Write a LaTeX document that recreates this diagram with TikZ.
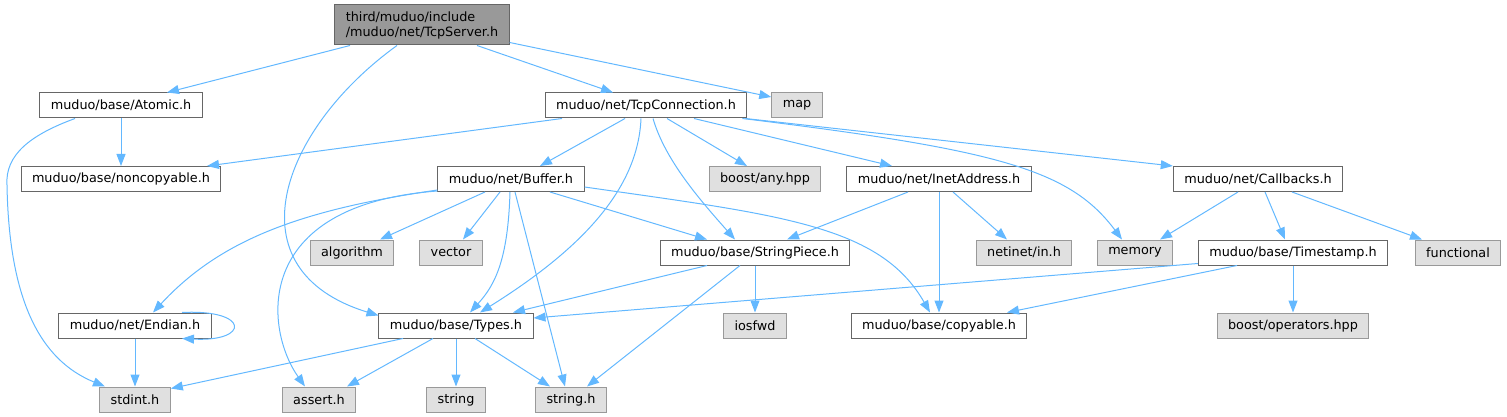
\documentclass[tikz,border=0pt]{standalone}
\usepackage{fontspec}
\setmainfont{DejaVu Sans}
\usepackage{tikz}
\usetikzlibrary{arrows.meta}
\definecolor{edgeblue}{HTML}{63B8FF}
\definecolor{boxline}{HTML}{666666}
\definecolor{extline}{HTML}{999999}
\definecolor{extfill}{HTML}{E0E0E0}
\definecolor{rootfill}{HTML}{999999}

\begin{document}
\begin{tikzpicture}[x=1pt, y=-1pt,
  hfile/.style={draw=boxline, fill=white, line width=1pt, inner xsep=11pt, inner ysep=0pt,
    minimum height=25pt, font=\fontsize{12.8}{15}\selectfont},
  sysfile/.style={hfile, draw=extline, fill=extfill},
  mainfile/.style={hfile, fill=rootfill, minimum height=40pt, align=left},
  incl/.style={draw=edgeblue, line width=1pt, -{Triangle[length=12pt,width=9pt]}}]
\useasboundingbox (0,0) rectangle (1507,417);

\node[mainfile] (srv) at (422,25) {third/muduo/include\\/muduo/net/TcpServer.h};
\node[hfile] (atomic) at (121,105.5) {muduo/base/Atomic.h};
\node[hfile] (tcpconn) at (646,105.5) {muduo/net/TcpConnection.h};
\node[sysfile] (map) at (797,105.5) {map};
\node[hfile] (noncopy) at (121,179) {muduo/base/noncopyable.h};
\node[hfile] (buffer) at (511,179) {muduo/net/Buffer.h};
\node[sysfile] (anyhpp) at (765,179) {boost/any.hpp};
\node[hfile] (inet) at (939,179) {muduo/net/InetAddress.h};
\node[hfile] (callbacks) at (1258,179) {muduo/net/Callbacks.h};
\node[sysfile] (algo) at (352,252.5) {algorithm};
\node[sysfile] (vector) at (451,252.5) {vector};
\node[hfile] (strpiece) at (755,252.5) {muduo/base/StringPiece.h};
\node[sysfile] (netinet) at (1024,252.5) {netinet/in.h};
\node[sysfile] (memory) at (1135,252.5) {memory};
\node[hfile] (timestamp) at (1293,252.5) {muduo/base/Timestamp.h};
\node[sysfile] (functional) at (1458,252.5) {functional};
\node[hfile] (endian) at (135,325.5) {muduo/net/Endian.h};
\node[hfile] (types) at (456,325.5) {muduo/base/Types.h};
\node[sysfile] (iosfwd) at (755,325.5) {iosfwd};
\node[hfile] (copyable) at (939,325.5) {muduo/base/copyable.h};
\node[sysfile] (operators) at (1293,325.5) {boost/operators.hpp};
\node[sysfile] (stdint) at (135,399.5) {stdint.h};
\node[sysfile] (asserth) at (319,399.5) {assert.h};
\node[sysfile] (string) at (456,399.5) {string};
\node[sysfile] (stringh) at (571,399.5) {string.h};

% TcpServer.h
\draw[incl] ([xshift=-72pt]srv.south) -- ([xshift=46pt]atomic.north);
\draw[incl] ([xshift=-25pt]srv.south) .. controls (280,130) and (230,270) .. ([yshift=-3pt]types.north west);
\draw[incl] ([xshift=55pt]srv.south) -- ([xshift=-33pt]tcpconn.north);
\draw[incl] ([yshift=3pt]srv.south east) -- ([yshift=8.5pt]map.west);
% Atomic.h
\draw[incl] (atomic) -- (noncopy);
\draw[incl] ([xshift=-46pt]atomic.south) .. controls (30,135) and (5,155) .. (7,185)
  .. controls (9,300) and (40,360) .. ([xshift=-30pt]stdint.north);
% TcpConnection.h
\draw[incl] ([xshift=-84pt]tcpconn.south) -- ([xshift=86pt]noncopy.north);
\draw[incl] ([xshift=-21pt]tcpconn.south) -- ([xshift=29pt]buffer.north);
\draw[incl] ([xshift=-5pt]tcpconn.south) .. controls (638,190) and (580,250) .. ([xshift=24pt]types.north);
\draw[incl] ([xshift=7pt]tcpconn.south) .. controls (665,160) and (700,200) .. ([xshift=-20pt]strpiece.north);
\draw[incl] ([xshift=21pt]tcpconn.south) -- ([xshift=-18pt]anyhpp.north);
\draw[incl] ([xshift=48pt]tcpconn.south) -- ([xshift=-47pt]inet.north);
\draw[incl] ([xshift=-5pt]tcpconn.south east) .. controls (1000,150) and (1070,170) .. ([xshift=-13pt]memory.north);
\draw[incl] ([xshift=-2pt]tcpconn.south east) -- (callbacks.north west);
% Buffer.h
\draw[incl] ([yshift=2pt]buffer.south west) .. controls (300,210) and (220,240) .. ([xshift=18pt]endian.north);
\draw[incl] ([yshift=1pt]buffer.south west) .. controls (250,205) and (265,330) .. ([xshift=-14pt]asserth.north);
\draw[incl] ([xshift=-26pt]buffer.south) -- ([xshift=28pt]algo.north);
\draw[incl] ([xshift=-11pt]buffer.south) -- ([xshift=12pt]vector.north);
\draw[incl] ([xshift=-1pt]buffer.south) .. controls (508,260) and (495,285) .. ([xshift=14pt]types.north);
\draw[incl] ([xshift=4pt]buffer.south) -- ([xshift=-6pt]stringh.north);
\draw[incl] ([xshift=39pt]buffer.south) -- ([xshift=-48pt]strpiece.north);
\draw[incl] ([yshift=5pt]buffer.south east) .. controls (780,215) and (880,225) .. ([xshift=-9pt]copyable.north);
% InetAddress.h
\draw[incl] ([xshift=-31pt]inet.south) -- ([xshift=32pt]strpiece.north);
\draw[incl] (inet) -- (copyable);
\draw[incl] ([xshift=14pt]inet.south) -- ([xshift=-17pt]netinet.north);
% Callbacks.h
\draw[incl] ([xshift=-20pt]callbacks.south) -- ([xshift=25pt]memory.north);
\draw[incl] ([xshift=7pt]callbacks.south) -- ([xshift=-8pt]timestamp.north);
\draw[incl] ([xshift=34pt]callbacks.south) -- ([xshift=-36pt]functional.north);
% Timestamp.h
\draw[incl] ([yshift=2pt]timestamp.south west) -- ([yshift=7.5pt]types.east);
\draw[incl] ([xshift=-56pt]timestamp.south) -- ([xshift=68pt]copyable.north);
\draw[incl] (timestamp) -- (operators);
% StringPiece.h
\draw[incl] ([xshift=-48pt]strpiece.south) -- ([xshift=57pt]types.north);
\draw[incl] (strpiece) -- (iosfwd);
\draw[incl] ([xshift=-15pt]strpiece.south) -- ([xshift=16pt]stringh.north);
% Endian.h
\draw[incl] ([xshift=47pt]endian.north) .. controls (250,309) and (250,342) .. ([xshift=47pt]endian.south);
\draw[incl] (endian) -- (stdint);
% Types.h
\draw[incl] ([xshift=-53pt]types.south) -- ([yshift=-2pt]stdint.north east);
\draw[incl] ([xshift=-23pt]types.south) -- ([xshift=28pt]asserth.north);
\draw[incl] (types) -- (string);
\draw[incl] ([xshift=19pt]types.south) -- ([xshift=-21pt]stringh.north);
\end{tikzpicture}
\end{document}
